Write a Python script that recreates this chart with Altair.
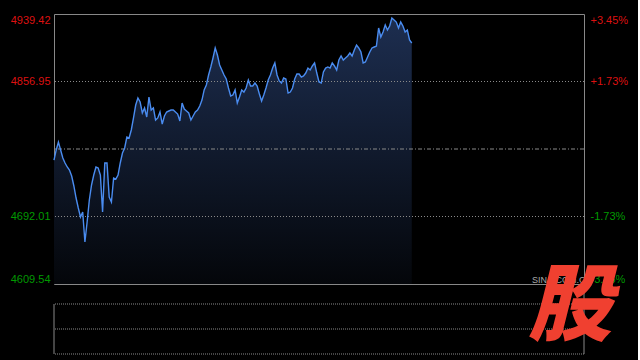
import altair as alt
import pandas as pd

# ---- data ----
prices = [
    4761.0, 4773.3, 4783.0, 4773.3, 4763.5, 4757.4, 4752.5, 4748.8, 4741.5, 4729.3,
    4714.6, 4702.4, 4691.4, 4697.5, 4660.8, 4685.3, 4712.2, 4730.5, 4742.7, 4752.5,
    4751.3, 4742.7, 4697.5, 4757.4, 4757.4, 4715.8, 4709.7, 4739.0, 4737.8, 4742.7,
    4757.4, 4769.6, 4775.7, 4789.1, 4787.9, 4797.7, 4812.4, 4828.2, 4836.8, 4831.9,
    4818.5, 4824.6, 4813.6, 4838.0, 4822.1, 4824.6, 4809.9, 4812.4, 4819.7, 4805.0,
    4814.8, 4819.7, 4820.9, 4822.1, 4822.1, 4819.7, 4817.2, 4808.7, 4830.7, 4823.3,
    4820.9, 4818.5, 4809.9, 4814.8, 4819.7, 4822.1, 4827.0, 4834.3, 4846.6, 4852.7,
    4864.9, 4874.7, 4885.7, 4897.9, 4889.3, 4877.1, 4871.0, 4864.9, 4860.0, 4849.0,
    4839.2, 4840.5, 4846.6, 4830.7, 4838.0, 4846.6, 4844.1, 4849.0, 4858.8, 4851.5,
    4851.5, 4855.1, 4851.5, 4841.7, 4833.1, 4840.5, 4849.0, 4858.8, 4864.9, 4873.4,
    4879.6, 4864.9, 4857.6, 4855.1, 4861.2, 4860.0, 4842.9, 4844.1, 4849.0, 4860.0,
    4866.1, 4866.1, 4862.4, 4863.7, 4867.3, 4873.4, 4871.0, 4875.9, 4879.6, 4867.3,
    4856.3, 4855.1, 4868.6, 4873.4, 4874.7, 4873.4, 4879.6, 4875.9, 4871.0, 4883.2,
    4888.1, 4883.2, 4885.7, 4888.1, 4891.8, 4888.1, 4895.4, 4901.5, 4897.9, 4893.0,
    4879.6, 4880.8, 4886.9, 4893.0, 4897.9, 4899.1, 4900.3, 4922.3, 4911.3, 4917.4,
    4926.0, 4919.9, 4924.8, 4934.5, 4932.1, 4929.6, 4922.3, 4929.6, 4924.8, 4917.4,
    4919.9, 4907.7, 4904.0,
]
minutes = list(range(len(prices)))
prev_close = 4774.48
y_ticks = [4609.54, 4692.01, 4856.95, 4939.42]
dotted_levels = [4692.01, 4856.95]
session_minutes = [0, 240]
volume_levels = [0, 1, 2]
logo_text = ["股"]
watermark = ["SINA.COM.CN"]

df = pd.DataFrame({"minute": minutes, "price": prices})

RED = "#dd1111"
GREEN = "#009900"
GRID = "#8a8a8a"
FRAME = "#888888"

x_scale = alt.Scale(domain=session_minutes, nice=False, zero=False)
y_scale = alt.Scale(domain=[y_ticks[0], y_ticks[-1]], nice=False, zero=False)

label_color = {"condition": {"test": f"datum.value > {prev_close}", "value": RED}, "value": GREEN}

left_axis = alt.Axis(
    values=y_ticks, orient="left", title=None, ticks=False, tickSize=0, domain=False,
    grid=False, labelFlush=True, labelPadding=4, labelFont="Liberation Sans",
    labelFontSize=11, labelColor=label_color, format=".2f",
)
right_axis = alt.Axis(
    values=y_ticks, orient="right", title=None, ticks=False, tickSize=0, domain=False,
    grid=False, labelFlush=True, labelPadding=6, labelFont="Liberation Sans",
    labelFontSize=11, labelColor=label_color,
    labelExpr=(f"(datum.value > {prev_close} ? '+' : '-') + "
               f"format(abs(datum.value - {prev_close}) / {prev_close} * 100, '.2f') + '%'"),
)

area = alt.Chart(df).mark_area(
    color=alt.Gradient(
        gradient="linear",
        stops=[alt.GradientStop(color="#1d2e50", offset=0),
               alt.GradientStop(color="#04060a", offset=1)],
        x1=0, x2=0, y1=0, y2=1,
    )
).encode(
    x=alt.X("minute:Q", scale=x_scale, axis=None),
    y=alt.Y("price:Q", scale=y_scale, axis=left_axis),
    y2=alt.datum(y_ticks[0]),
)

dotted = alt.Chart(pd.DataFrame({"level": dotted_levels})).mark_rule(
    color=GRID, strokeDash=[1, 2], strokeWidth=1
).encode(y=alt.Y("level:Q", scale=y_scale, axis=None))

mid = alt.Chart(pd.DataFrame({"level": [prev_close]})).mark_rule(
    color=GRID, strokeDash=[4, 2, 1, 2], strokeWidth=1
).encode(y=alt.Y("level:Q", scale=y_scale, axis=None))

line = alt.Chart(df).mark_line(color="#4a8cf0", strokeWidth=1.4).encode(
    x=alt.X("minute:Q", scale=x_scale, axis=None),
    y=alt.Y("price:Q", scale=y_scale, axis=right_axis),
)

mark_wm = alt.Chart(pd.DataFrame({"t": watermark})).mark_text(
    color="#aaaaaa", fontSize=9, font="Liberation Sans", align="left", baseline="middle"
).encode(text="t:N", x=alt.value(478), y=alt.value(266))

main = alt.layer(area, dotted, mid, line, mark_wm).resolve_axis(y="independent").properties(
    width=530, height=270, view=alt.ViewBackground(stroke=FRAME, strokeWidth=1)
)

vscale = alt.Scale(domain=[0, 2], nice=False, zero=False)
vol_h = alt.Chart(pd.DataFrame({"level": volume_levels})).mark_rule(
    color=GRID, strokeDash=[1, 1], strokeWidth=1
).encode(y=alt.Y("level:Q", scale=vscale, axis=None))

vol_v = alt.Chart(pd.DataFrame({"minute": session_minutes})).mark_rule(
    color=FRAME, strokeWidth=1
).encode(x=alt.X("minute:Q", scale=x_scale, axis=None), y=alt.value(0), y2=alt.value(50))

gap_v = alt.Chart(pd.DataFrame({"minute": session_minutes[1:]})).mark_rule(
    color=FRAME, strokeWidth=1
).encode(x=alt.X("minute:Q", scale=x_scale, axis=None), y=alt.value(-20), y2=alt.value(0))

logo = alt.Chart(pd.DataFrame({"t": logo_text})).mark_text(
    color="#f04030", fontSize=84, font="Noto Sans CJK SC", fontWeight=900,
    fontStyle="italic", align="center", baseline="middle"
).encode(text="t:N", x=alt.value(516), y=alt.value(5))

bottom = alt.layer(vol_h, vol_v, gap_v, logo).properties(
    width=530, height=50, view=alt.ViewBackground(strokeOpacity=0)
)

chart = alt.vconcat(main, bottom, spacing=20, bounds="flush").properties(
    background="#000000",
    padding={"left": 9, "top": 13, "right": 9, "bottom": 6},
)

chart.save("out.html", embed_options={"renderer": "svg", "actions": False})
